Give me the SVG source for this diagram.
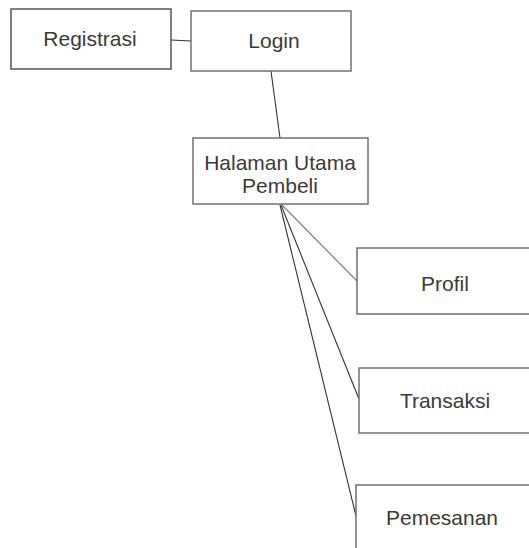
<svg xmlns="http://www.w3.org/2000/svg" width="529" height="548" viewBox="0 0 529 548">
<style>
.box{fill:#fff;stroke:#707070;stroke-width:1.5}
.lbl{font-family:"Liberation Sans",Arial,sans-serif;font-size:21px;fill:#3a3a3a;text-anchor:middle}
.c{stroke:#333;stroke-width:1.1;fill:none}
.c2{stroke:#777;stroke-width:1.1;fill:none}
</style>
<rect width="529" height="548" fill="#fff"/>
<g id="connectors">
<line class="c" x1="171" y1="40" x2="191" y2="41"/>
<line class="c" x1="271" y1="71" x2="280" y2="138"/>
<line class="c2" x1="282" y1="205" x2="357" y2="281"/>
<line class="c" x1="281" y1="205" x2="359" y2="399"/>
<line class="c" x1="280" y1="205" x2="356" y2="516"/>
</g>
<g id="registrasi"><rect class="box" x="11" y="9" width="160" height="60" style="stroke:#555"/><text class="lbl" x="90" y="46">Registrasi</text></g>
<g id="login"><rect class="box" x="191" y="11" width="160" height="60"/><text class="lbl" x="274" y="48">Login</text></g>
<g id="halaman"><rect class="box" x="193" y="138" width="175" height="66"/><text class="lbl" x="280" y="170">Halaman Utama</text><text class="lbl" x="280" y="193">Pembeli</text></g>
<g id="profil"><rect class="box" x="357" y="248" width="185" height="66"/><text class="lbl" x="445" y="291">Profil</text></g>
<g id="transaksi"><rect class="box" x="359" y="368" width="185" height="65"/><text class="lbl" x="445" y="408">Transaksi</text></g>
<g id="pemesanan"><rect class="box" x="356" y="485" width="185" height="80"/><text class="lbl" x="442" y="525">Pemesanan</text></g>
</svg>
